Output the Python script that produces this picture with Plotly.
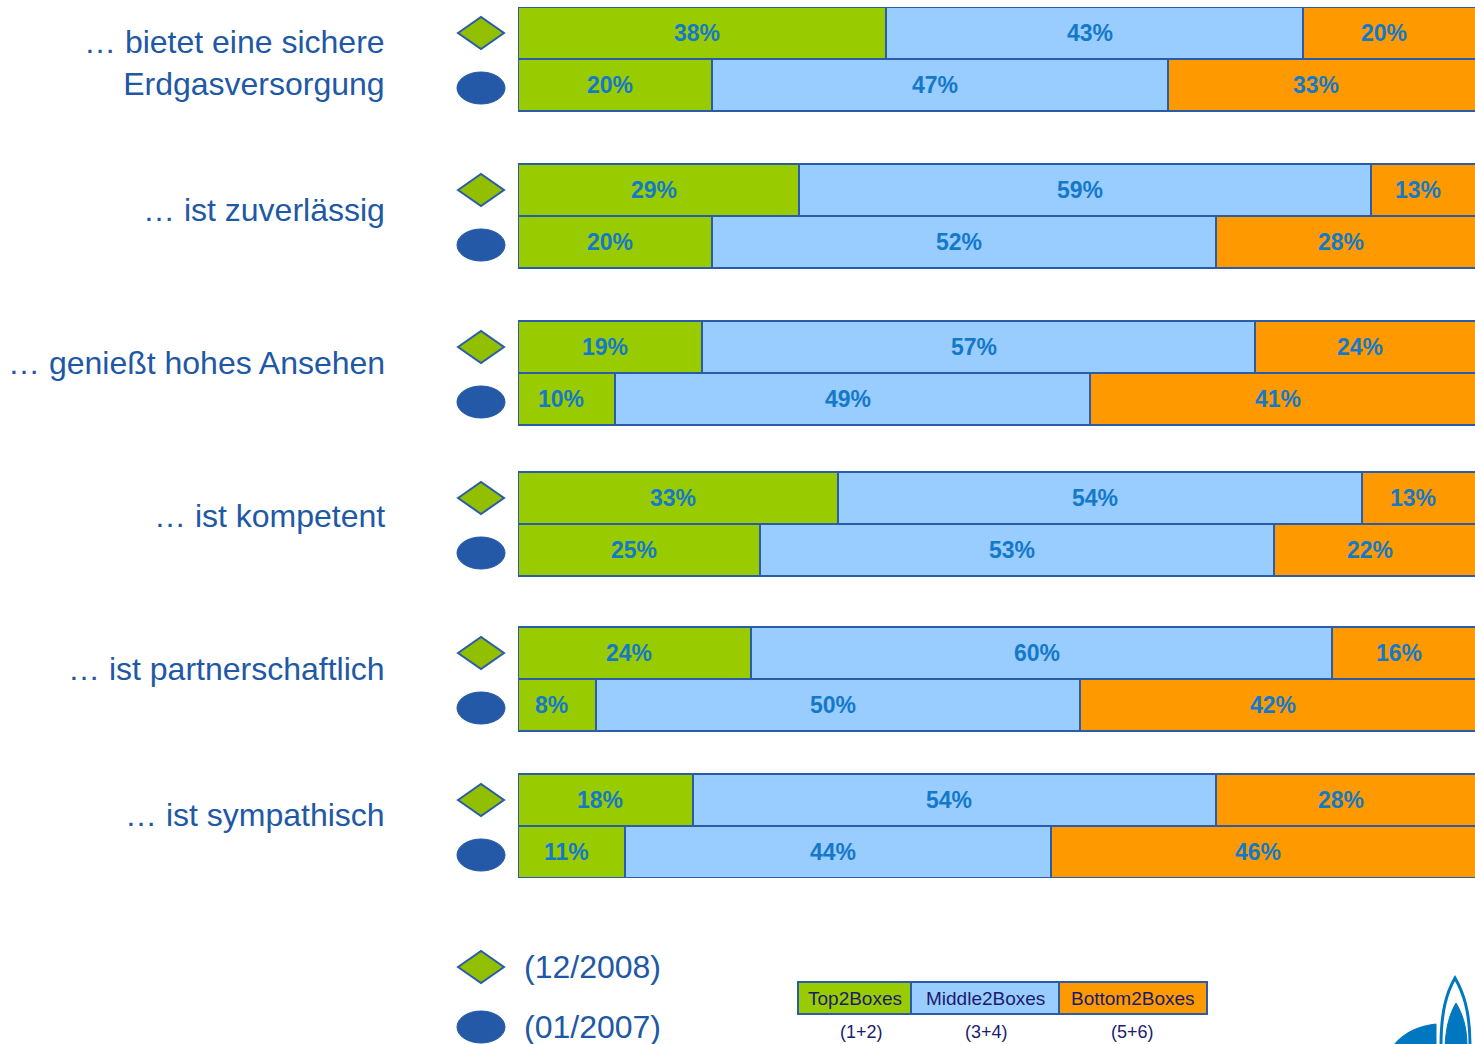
import plotly.graph_objects as go

# ---------------- data ----------------
categories = ["… bietet eine sichere<br>Erdgasversorgung", "… ist zuverlässig",
              "… genießt hohes Ansehen", "… ist kompetent",
              "… ist partnerschaftlich", "… ist sympathisch"]
top2_2008 = [38, 29, 19, 33, 24, 18]
mid2_2008 = [43, 59, 57, 54, 60, 54]
bot2_2008 = [20, 13, 24, 13, 16, 28]
top2_2007 = [20, 20, 10, 25, 8, 11]
mid2_2007 = [47, 52, 49, 53, 50, 44]
bot2_2007 = [33, 28, 41, 22, 42, 46]
series_names = ["Top2Boxes", "Middle2Boxes", "Bottom2Boxes"]
series_sub = ["(1+2)", "(3+4)", "(5+6)"]
periods = ["(12/2008)", "(01/2007)"]

# ---------------- layout / style ----------------
W, H = 1475, 1044
ML, MR, MT, MB = 518, 0, 7, 166
PW, PH = W - ML - MR, H - MT - MB
XMAX = 98.7
# vertical layout in pixel-like units (y axis reversed)
group_centers = [59, 216, 373, 524, 679, 826]
ROW_H = 52
YTOP, YBOT = 7, 878
colors = ["#99CC00", "#99CCFF", "#FF9900"]
edge = "#2A5CAA"
label_blue = "#2158A6"
val_blue = "#1479C8"
font_main = "Liberation Sans, Arial"

n = len(categories)
ypos, vals = [], [[], [], []]
for g in range(n):
    ypos += [group_centers[g] - ROW_H / 2, group_centers[g] + ROW_H / 2]
    vals[0] += [top2_2008[g], top2_2007[g]]
    vals[1] += [mid2_2008[g], mid2_2007[g]]
    vals[2] += [bot2_2008[g], bot2_2007[g]]

fig = go.Figure()
for s in range(3):
    fig.add_trace(go.Bar(
        x=vals[s], y=ypos, orientation="h", width=ROW_H,
        marker=dict(color=colors[s], line=dict(color=edge, width=2)),
        name=series_names[s], showlegend=False, hoverinfo="x"))

annotations = []
# value labels centred on the visible part of each segment
for i, yv in enumerate(ypos):
    start = 0
    for s in range(3):
        v = vals[s][i]
        end = start + v
        vis_end = min(end, XMAX)
        cx = (start + vis_end) / 2
        annotations.append(dict(x=cx, y=yv, xref="x", yref="y", text=f"<b>{v}%</b>",
                                showarrow=False, xshift=-5, yanchor="middle",
                                font=dict(family=font_main, size=23, color=val_blue)))
        start = end


def px2paper_x(px):
    return (px - ML) / PW


def px2paper_y(py):
    return (H - MB - py) / PH


# category labels
label_shift = [-4, 6, 10, 8, 10, 11]
for g, cat in enumerate(categories):
    annotations.append(dict(x=px2paper_x(387), y=group_centers[g], xref="paper", yref="y",
                            text=cat, showarrow=False, xanchor="right", align="right",
                            yanchor="middle", yshift=label_shift[g],
                            font=dict(family=font_main, size=32, color=label_blue)))

shapes = []
dx0, dx1 = px2paper_x(458), px2paper_x(504)
dxm = (dx0 + dx1) / 2
diamond_fill = "#92BF00"
ell_fill = "#2359A6"
for g in range(n):
    yc = group_centers[g] - ROW_H / 2
    shapes.append(dict(type="path", xref="paper", yref="y",
                       path=f"M {dx0},{yc} L {dxm},{yc - 16} L {dx1},{yc} L {dxm},{yc + 16} Z",
                       fillcolor=diamond_fill, line=dict(color=edge, width=2)))
    yc2 = group_centers[g] + ROW_H / 2 + 3
    shapes.append(dict(type="circle", xref="paper", yref="y",
                       x0=px2paper_x(457), x1=px2paper_x(505), y0=yc2 - 16, y1=yc2 + 16,
                       fillcolor=ell_fill, line=dict(color=ell_fill, width=1)))

# period legend
for k, (py, txt) in enumerate(zip([967, 1027], periods)):
    yc = px2paper_y(py)
    h = 16 / PH
    if k == 0:
        shapes.append(dict(type="path", xref="paper", yref="paper",
                           path=f"M {dx0},{yc} L {dxm},{yc + h} L {dx1},{yc} L {dxm},{yc - h} Z",
                           fillcolor=diamond_fill, line=dict(color=edge, width=2)))
    else:
        shapes.append(dict(type="circle", xref="paper", yref="paper",
                           x0=px2paper_x(457), x1=px2paper_x(505), y0=yc - h, y1=yc + h,
                           fillcolor=ell_fill, line=dict(color=ell_fill, width=1)))
    annotations.append(dict(x=px2paper_x(522), y=yc, xref="paper", yref="paper", text=txt,
                            showarrow=False, xanchor="left", yanchor="middle",
                            font=dict(family=font_main, size=32, color=label_blue)))

# box legend
box_edges = [798, 911, 1059, 1207]
sub_x = [861, 986, 1132]
narrow = "Liberation Sans Narrow, Arial Narrow, Liberation Sans"
for s in range(3):
    x0, x1 = px2paper_x(box_edges[s]), px2paper_x(box_edges[s + 1])
    shapes.append(dict(type="rect", xref="paper", yref="paper",
                       x0=x0, x1=x1, y0=px2paper_y(1014), y1=px2paper_y(982),
                       fillcolor=colors[s], line=dict(color=edge, width=2)))
    annotations.append(dict(x=(x0 + x1) / 2, y=px2paper_y(998), xref="paper", yref="paper",
                            text=series_names[s], showarrow=False, yanchor="middle",
                            font=dict(family=narrow, size=19, color="#1B1B6E")))
    annotations.append(dict(x=px2paper_x(sub_x[s]), y=px2paper_y(1032), xref="paper", yref="paper",
                            text=series_sub[s], showarrow=False, yanchor="middle",
                            font=dict(family=narrow, size=18, color="#1B1B6E")))


# logo fragment (bottom right)
def P(px, py):
    return f"{px2paper_x(px)},{px2paper_y(py)}"


logo = "#0077C0"
shapes.append(dict(type="path", xref="paper", yref="paper",
                   path=f"M {P(1393,1046)} C {P(1403,1033)} {P(1418,1026)} {P(1436,1024)} L {P(1436,1046)} Z",
                   fillcolor=logo, line=dict(color=logo, width=1)))
shapes.append(dict(type="path", xref="paper", yref="paper",
                   path=f"M {P(1441,1046)} C {P(1441,1010)} {P(1447,992)} {P(1455,978)} C {P(1463,992)} {P(1470,1010)} {P(1470,1046)}",
                   fillcolor="rgba(0,0,0,0)", line=dict(color=logo, width=3)))
shapes.append(dict(type="path", xref="paper", yref="paper",
                   path=f"M {P(1445,1046)} C {P(1446,1026)} {P(1450,1013)} {P(1456,1003)} C {P(1462,1013)} {P(1467,1026)} {P(1467,1046)} Z",
                   fillcolor=logo, line=dict(color=logo, width=1)))

fig.update_layout(
    width=W, height=H, barmode="stack", bargap=0,
    margin=dict(l=ML, r=MR, t=MT, b=MB, pad=0),
    paper_bgcolor="white", plot_bgcolor="white",
    xaxis=dict(range=[0, XMAX], visible=False, fixedrange=True),
    yaxis=dict(range=[YBOT, YTOP], visible=False, fixedrange=True),
    annotations=annotations, shapes=shapes, showlegend=False,
)

fig.write_html("out.html", config={"displayModeBar": False},
               post_script="document.body.style.margin='0';document.body.style.overflow='hidden';")
